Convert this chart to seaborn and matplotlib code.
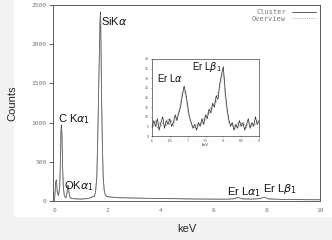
import matplotlib
matplotlib.use("Agg")
import matplotlib.pyplot as plt
from matplotlib.patches import Rectangle
import seaborn as sns
import pandas as pd

sns.set_theme(style="white")
plt.rcParams["font.family"] = ["Liberation Sans", "DejaVu Sans"]
plt.rcParams["mathtext.fontset"] = "dejavusans"

# ---- main spectrum (keV, counts) ----
energy = [0.00, 0.03, 0.05, 0.08, 0.11, 0.15, 0.20, 0.23, 0.25, 0.27, 0.29, 0.31, 0.34,
          0.38, 0.44, 0.48, 0.51, 0.53, 0.56, 0.60, 0.70, 0.80, 0.90, 1.00, 1.10,
          1.20, 1.30, 1.40, 1.45, 1.50, 1.55, 1.60, 1.64, 1.67, 1.70, 1.72, 1.74,
          1.76, 1.78, 1.81, 1.84, 1.88, 1.92, 1.96, 2.00, 2.20, 2.50, 3.00, 3.50,
          4.00, 4.50, 5.00, 5.50, 6.00, 6.50, 6.80, 6.92, 7.05, 7.40, 7.75, 7.90,
          8.05, 8.50, 9.00, 9.50, 10.00]
cluster = [0, 120, 240, 270, 120, 70, 160, 520, 900, 970, 820, 450, 170,
           60, 40, 110, 200, 190, 90, 40, 30, 28, 26, 25, 27,
           30, 35, 45, 60, 55, 110, 320, 900, 1450, 1950, 2300, 2410,
           1900, 1300, 700, 300, 130, 80, 62, 55, 48, 42, 38, 34,
           32, 30, 27, 25, 24, 23, 30, 48, 28, 24, 30, 50,
           27, 21, 19, 17, 16]
overview = [0, 100, 210, 250, 110, 60, 140, 480, 860, 930, 790, 420, 150,
            55, 38, 100, 190, 180, 80, 38, 28, 27, 25, 24, 26,
            29, 33, 42, 56, 52, 100, 300, 860, 1400, 1900, 2250, 2380,
            1850, 1250, 660, 280, 120, 75, 60, 52, 46, 40, 36, 33,
            31, 29, 26, 24, 23, 22, 28, 45, 27, 23, 29, 47,
            26, 20, 18, 16, 15]

# ---- inset: Er L lines (keV, counts) ----
inset_energy = [6.00, 6.05, 6.10, 6.15, 6.20, 6.25, 6.30, 6.35, 6.40, 6.45, 6.50,
                6.55, 6.60, 6.65, 6.70, 6.75, 6.80, 6.85, 6.90, 6.95, 7.00,
                7.05, 7.10, 7.15, 7.20, 7.25, 7.30, 7.35, 7.40, 7.45, 7.50,
                7.55, 7.60, 7.65, 7.70, 7.75, 7.80, 7.85, 7.90, 7.95, 8.00,
                8.05, 8.10, 8.15, 8.20, 8.25, 8.30, 8.35, 8.40, 8.45, 8.50,
                8.55, 8.60, 8.65, 8.70, 8.75, 8.80, 8.85, 8.90, 8.95, 9.00]
inset_cluster = [4, 8, 5, 9, 3, 7, 10, 4, 8, 6, 9,
                 5, 7, 11, 8, 12, 15, 21, 26, 22, 16,
                 10, 7, 4, 6, 3, 7, 5, 9, 6, 11,
                 9, 14, 12, 17, 15, 21, 19, 27, 32, 36,
                 24, 15, 9, 5, 7, 3, 6, 4, 8, 5,
                 7, 3, 6, 9, 4, 7, 5, 10, 6, 8]
inset_overview = [6, 5, 8, 4, 7, 5, 7, 6, 5, 9, 6,
                  8, 5, 9, 10, 13, 17, 23, 24, 20, 13,
                  9, 6, 5, 4, 6, 5, 7, 6, 9, 8,
                  12, 11, 15, 14, 18, 17, 23, 25, 30, 33,
                  20, 13, 7, 6, 5, 6, 4, 7, 5, 7,
                  5, 6, 4, 7, 6, 5, 7, 6, 8, 7]

df = pd.concat([
    pd.DataFrame({"keV": energy, "Counts": cluster, "series": "Cluster"}),
    pd.DataFrame({"keV": energy, "Counts": overview, "series": "Overview"}),
])
dfi = pd.concat([
    pd.DataFrame({"keV": inset_energy, "Counts": inset_cluster, "series": "Cluster"}),
    pd.DataFrame({"keV": inset_energy, "Counts": inset_overview, "series": "Overview"}),
])

fig = plt.figure(figsize=(3.32, 2.40), dpi=100, facecolor="#f2f2f2")
fig.patches.append(Rectangle((14 / 332, 23 / 240), 1, 1, transform=fig.transFigure,
                             facecolor="white", edgecolor="none", zorder=-1))
ax = fig.add_axes([53 / 332, 39 / 240, 267 / 332, 196 / 240])

palette = {"Cluster": "#444444", "Overview": "#9a9a9a"}
dashes = {"Cluster": "", "Overview": (1, 1.5)}
sns.lineplot(data=df, x="keV", y="Counts", hue="series", style="series",
             palette=palette, dashes=dashes, linewidth=0.6, ax=ax)

ax.set_xlim(-0.05, 10)
ax.set_ylim(0, 2500)
ax.set_xticks([0, 2, 4, 6, 8, 10])
ax.set_yticks([0, 500, 1000, 1500, 2000, 2500])
mono = ["DejaVu Sans Mono"]
ax.tick_params(axis="x", length=0, pad=5, labelsize=4.5, labelcolor="#777777")
ax.tick_params(axis="y", length=3, width=0.5, direction="out", left=True, pad=1.5,
               labelsize=4.5, labelcolor="#777777")
for lab in ax.get_xticklabels() + ax.get_yticklabels():
    lab.set_family(mono)
for sp in ax.spines.values():
    sp.set_linewidth(0.6)
    sp.set_color("#444444")
ax.set_xlabel("keV", fontsize=8, labelpad=8)
ax.set_ylabel("Counts", fontsize=8, labelpad=10)

leg = ax.legend(loc="upper right", frameon=False, markerfirst=False, handlelength=3.5,
                prop={"family": mono, "size": 5}, labelspacing=0.05,
                borderaxespad=0.2, handletextpad=0.8)
for t in leg.get_texts():
    t.set_color("#777777")
    t.set_ha("right")

ann = dict(fontsize=8, color="#111111")
ax.text(1.75, 2250, r"SiK$\alpha$", **ann)
ax.text(0.15, 1000, r"C K$\alpha_1$", **ann)
ax.text(0.38, 150, r"OK$\alpha_1$", **ann)
ax.text(6.5, 70, r"Er L$\alpha_1$", **ann)
ax.text(7.85, 110, r"Er L$\beta_1$", **ann)

# ---- inset ----
axi = fig.add_axes([152 / 332, 104 / 240, 107 / 332, 77 / 240])
sns.lineplot(data=dfi, x="keV", y="Counts", hue="series", style="series",
             palette={"Cluster": "#222222", "Overview": "#666666"},
             dashes=dashes, linewidth=0.5, ax=axi, legend=False)
axi.set_xlim(6, 9)
axi.set_ylim(0, 40)
axi.set_xticks([6, 6.5, 7, 7.5, 8, 8.5, 9])
axi.set_xticklabels(["6", "6.5", "7", "7.5", "8", "8.5", "9"])
axi.set_yticks(range(0, 41, 5))
axi.tick_params(length=1, width=0.4, pad=1, labelsize=2.5, labelcolor="#555555",
                direction="out", left=True, bottom=True)
for sp in axi.spines.values():
    sp.set_linewidth(0.5)
    sp.set_color("#444444")
axi.set_xlabel("keV", fontsize=3, labelpad=0.5)
axi.set_ylabel("")
axi.text(6.15, 28, r"Er L$\alpha$", fontsize=7, color="#111111")
axi.text(7.12, 34.5, r"Er L$\beta_1$", fontsize=7, color="#111111")

fig.savefig("out.png", dpi=100, facecolor=fig.get_facecolor())
